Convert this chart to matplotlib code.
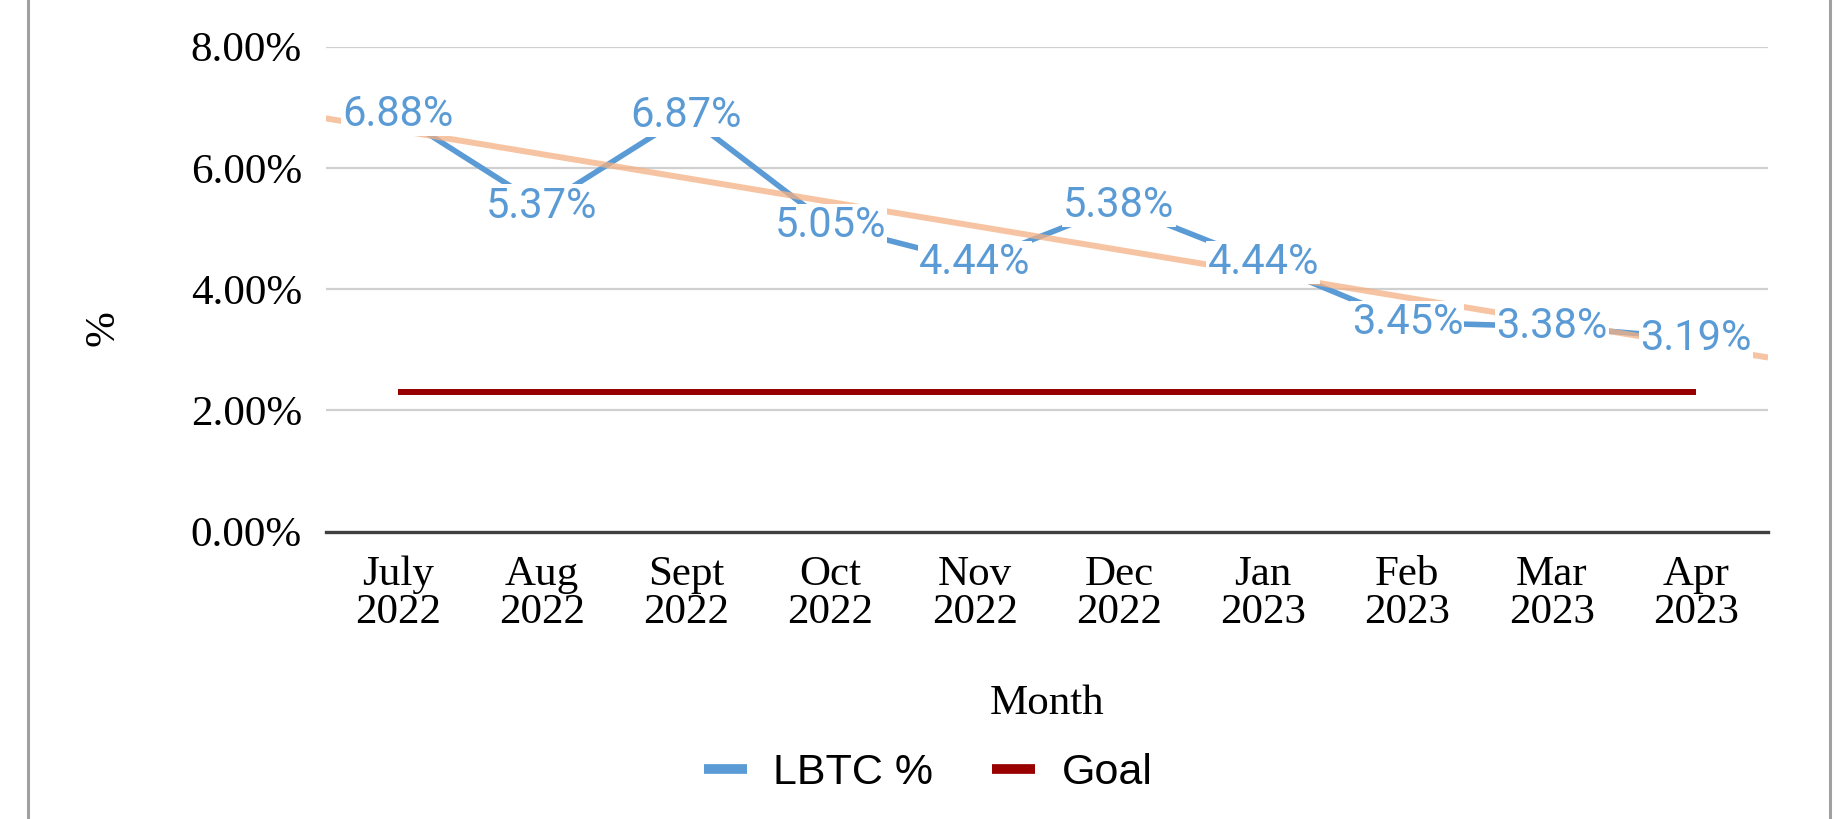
import numpy as np
import matplotlib
matplotlib.use("Agg")
import matplotlib.pyplot as plt
from matplotlib.lines import Line2D


# data
months = ["July\n2022", "Aug\n2022", "Sept\n2022", "Oct\n2022", "Nov\n2022",
          "Dec\n2022", "Jan\n2023", "Feb\n2023", "Mar\n2023", "Apr\n2023"]
lbtc = [6.88, 5.37, 6.87, 5.05, 4.44, 5.38, 4.44, 3.45, 3.38, 3.19]
goal = [2.30] * 10
y_ticks = [0, 2, 4, 6, 8]

BLUE = "#5B9BD5"
RED = "#990000"
TREND = "#F4B183"
SERIF = "Liberation Serif"


def main():
    fig = plt.figure(figsize=(18.36, 8.19), dpi=100)
    ax = fig.add_axes([0.1773, 0.351, 0.7857, 0.592])

    x = np.arange(len(months))

    # grid + axis
    for t in y_ticks[1:]:
        ax.axhline(t, color="#D0D0D0", lw=1.6, zorder=1)
    for s in ["top", "right", "left"]:
        ax.spines[s].set_visible(False)
    ax.spines["bottom"].set_color("#404040")
    ax.spines["bottom"].set_linewidth(2.4)
    ax.spines["bottom"].set_zorder(2)

    ax.plot(x, goal, color=RED, lw=4.3, solid_capstyle="butt", zorder=3)
    ax.plot(x, lbtc, color=BLUE, lw=4.0, zorder=3)

    # linear trendline of the LBTC series (as excel does it)
    k, b = np.polyfit(x, lbtc, 1)
    tx = np.array([-0.5, 9.5])
    ax.plot(tx, k * tx + b, color=TREND, lw=4.3, alpha=0.75, zorder=4,
            solid_capstyle="butt")

    for xi, v in zip(x, lbtc):
        ax.text(xi, v, "{:.2f}%".format(v), color=BLUE, fontsize=30,
                family="Roboto", ha="center", va="center", zorder=5,
                bbox=dict(boxstyle="square,pad=0.03", fc="white", ec="none"))

    ax.set_xlim(-0.5, 9.5)
    ax.set_ylim(0, 8)
    ax.set_xticks(x)
    ax.set_xticklabels(months, family=SERIF, fontsize=31, linespacing=0.98)
    ax.set_yticks(y_ticks)
    ax.set_yticklabels(["{:.2f}%".format(t) for t in y_ticks],
                       family=SERIF, fontsize=31)
    ax.tick_params(axis="both", length=0)
    ax.tick_params(axis="x", pad=17)
    ax.tick_params(axis="y", pad=17)

    ax.set_xlabel("Month", family=SERIF, fontsize=31)
    ax.xaxis.set_label_coords(0.5, -0.356)
    ax.xaxis.label.set_va("center")
    ax.set_ylabel("%", family=SERIF, fontsize=31)
    ax.yaxis.set_label_coords(-0.154, 0.42)
    ax.yaxis.label.set_va("center")

    handles = [Line2D([], [], color=BLUE, lw=7, solid_capstyle="butt"),
               Line2D([], [], color=RED, lw=7, solid_capstyle="butt")]
    fig.legend(handles, ["LBTC %", "Goal"], loc="center",
               bbox_to_anchor=(0.5055, 0.056), ncol=2, frameon=False,
               prop={"family": "Liberation Sans", "size": 31},
               handlelength=1.0, handletextpad=0.62, columnspacing=1.36)

    # chart border, only the sides are visible in the reference
    fig.add_artist(Line2D([28 / 1836] * 2, [0, 1], color="#A0A0A0", lw=2.2,
                          transform=fig.transFigure))
    fig.add_artist(Line2D([1830 / 1836] * 2, [0, 1], color="#A0A0A0", lw=2.2,
                          transform=fig.transFigure))

    fig.savefig("out.png", dpi=100)


if __name__ == "__main__":
    main()
